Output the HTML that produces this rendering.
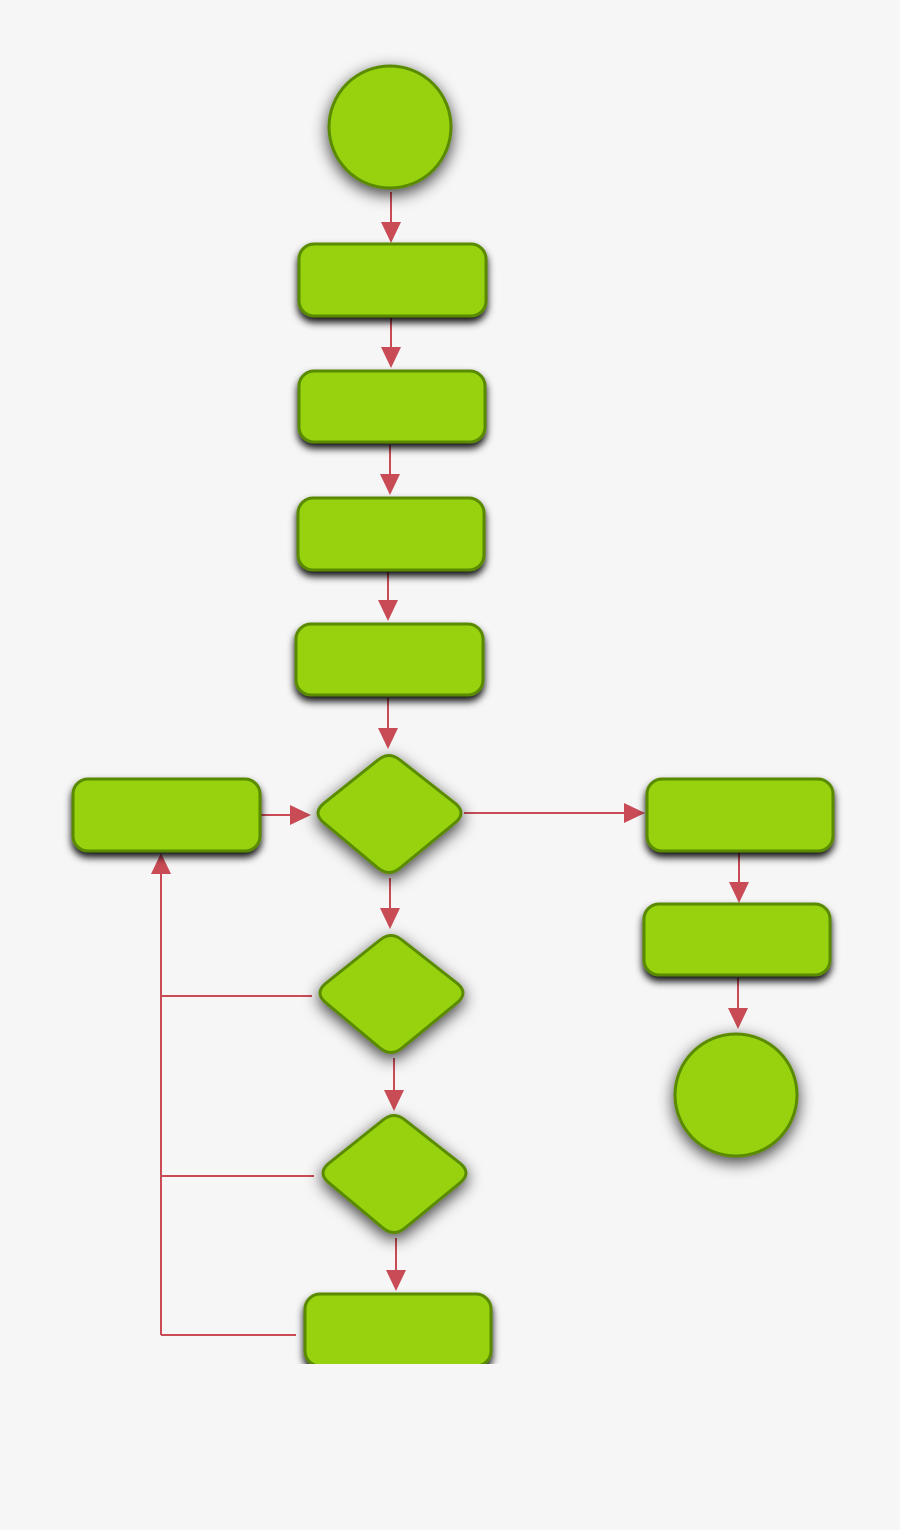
<!DOCTYPE html>
<html><head><meta charset="utf-8"><style>
html,body{margin:0;padding:0;background:#f6f6f6;}
svg{display:block;}
</style></head><body>
<svg width="900" height="1530" viewBox="0 0 900 1530" xmlns="http://www.w3.org/2000/svg">
<defs>
<filter id="sh" x="-30%" y="-30%" width="160%" height="180%">
<feDropShadow dx="0" dy="5" stdDeviation="4" flood-color="#000" flood-opacity="0.95"/>
</filter>
<filter id="sh2" x="-40%" y="-40%" width="180%" height="190%">
<feDropShadow dx="0" dy="5" stdDeviation="8" flood-color="#000" flood-opacity="0.75"/>
</filter>
<clipPath id="cut"><rect x="0" y="0" width="900" height="1364"/></clipPath>
</defs>
<rect width="900" height="1530" fill="#f6f6f6"/>
<g stroke="#c84b55" stroke-width="2" fill="none">
<line x1="391" y1="192" x2="391" y2="225"/>
<line x1="391" y1="318" x2="391" y2="350"/>
<line x1="390" y1="445" x2="390" y2="477"/>
<line x1="388" y1="572" x2="388" y2="603"/>
<line x1="388" y1="698" x2="388" y2="730"/>
<line x1="390" y1="878" x2="390" y2="910"/>
<line x1="394" y1="1058" x2="394" y2="1092"/>
<line x1="396" y1="1238" x2="396" y2="1273"/>
<line x1="260" y1="815" x2="292" y2="815"/>
<line x1="464" y1="813" x2="626" y2="813"/>
<line x1="739" y1="853" x2="739" y2="884"/>
<line x1="738" y1="978" x2="738" y2="1010"/>
<line x1="161" y1="873" x2="161" y2="1335"/>
<line x1="161" y1="996" x2="312" y2="996"/>
<line x1="161" y1="1176" x2="314" y2="1176"/>
<line x1="161" y1="1335" x2="296" y2="1335"/>
</g>
<g fill="#c84b55">
<polygon points="381,222 401,222 391,243"/>
<polygon points="381,347 401,347 391,368"/>
<polygon points="380,474 400,474 390,495"/>
<polygon points="378,600 398,600 388,621"/>
<polygon points="378,728 398,728 388,749"/>
<polygon points="380,908 400,908 390,929"/>
<polygon points="384,1090 404,1090 394,1111"/>
<polygon points="386,1270 406,1270 396,1291"/>
<polygon points="290,805 290,825 311,815"/>
<polygon points="624,803 624,823 645,813"/>
<polygon points="729,882 749,882 739,903"/>
<polygon points="728,1008 748,1008 738,1029"/>
<polygon points="151,874 171,874 161,853"/>
</g>
<g fill="#96d20f" stroke="#5a8a00" stroke-width="3">
<circle cx="390" cy="127" r="61" filter="url(#sh2)"/>
<circle cx="736" cy="1095" r="61" filter="url(#sh2)"/>
<g filter="url(#sh)">
<rect x="299" y="244" width="187" height="72" rx="15"/>
<rect x="299" y="371" width="186" height="71" rx="15"/>
<rect x="298" y="498" width="186" height="72" rx="15"/>
<rect x="296" y="624" width="187" height="71" rx="15"/>
<rect x="73" y="779" width="187" height="72" rx="15"/>
<rect x="647" y="779" width="186" height="72" rx="15"/>
<rect x="644" y="904" width="186" height="71" rx="15"/>
</g>
<g filter="url(#sh2)">
<path d="M378,760 Q389,751 400,760 L456,804 Q466,813 456,822 L400,868 Q389,877 378,868 L323,822 Q313,813 323,804 Z"/>
<path d="M380,940 Q391,931 402,940 L458,984 Q468,993 458,1002 L402,1048 Q391,1057 380,1048 L325,1002 Q315,993 325,984 Z"/>
<path d="M383,1120 Q394,1111 405,1120 L461,1164 Q471,1173 461,1182 L405,1228 Q394,1237 383,1228 L328,1182 Q318,1173 328,1164 Z"/>
</g>
</g>
<g clip-path="url(#cut)">
<rect x="305" y="1294" width="186" height="72" rx="15" fill="#96d20f" stroke="#5a8a00" stroke-width="3" filter="url(#sh)"/>
</g>
<rect x="0" y="1364" width="900" height="166" fill="#f6f6f6"/>
</svg>
</body></html>
